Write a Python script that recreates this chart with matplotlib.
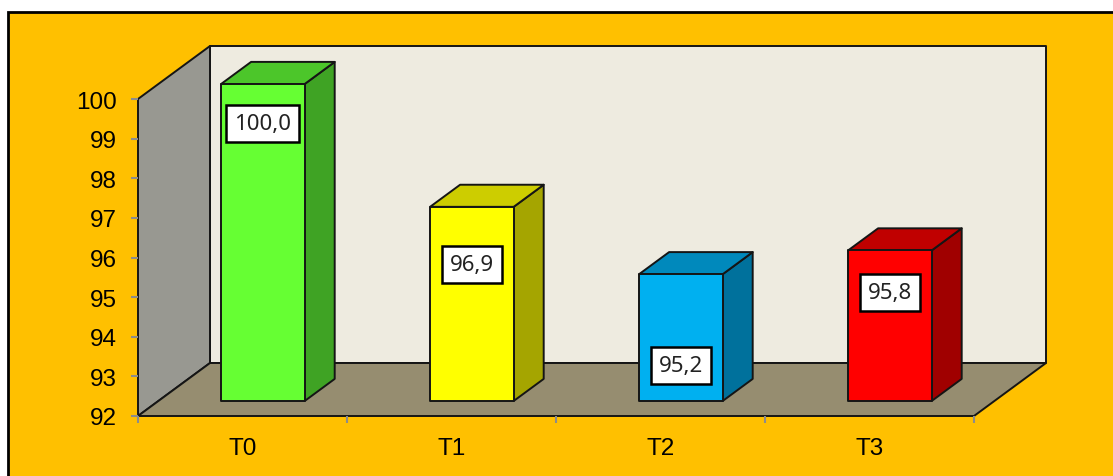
import matplotlib

matplotlib.use("Agg")

import matplotlib.pyplot as plt
from matplotlib.patches import Polygon, Rectangle

plt.rcParams["font.family"] = ["Liberation Sans", "DejaVu Sans"]

# chart data
categories = ["T0", "T1", "T2", "T3"]
values = [100.0, 96.9, 95.2, 95.8]
y_ticks = [92, 93, 94, 95, 96, 97, 98, 99, 100]

# bar colours: front, side, top
front_colors = ["#66FF33", "#FFFF00", "#00B0F0", "#FF0000"]
side_colors = ["#3FA324", "#A5A500", "#00719C", "#A00000"]
top_colors = ["#4CC62A", "#CDCD00", "#0089BC", "#C00000"]

# layout of the fake 3d box (in data units)
Y_MIN, Y_MAX = 92, 100
DX, DY = 0.3445, 1.3375      # offset of the back wall
F0, F1 = 0.283, 0.70         # depth fraction of bar front / back faces
BAR_W = 0.40
LABEL_DROP = [1.0, 1.45, 2.3, 1.05]

W, H = 1113, 477
fig = plt.figure(figsize=(W / 100, H / 100), dpi=100)
fig.patch.set_facecolor("white")

# orange chart area
fig.patches.append(Rectangle((8 / W, -0.05), 1.2, 1 - 13 / H + 0.05, transform=fig.transFigure,
                             facecolor="#FFC000", edgecolor="black", linewidth=2, zorder=-10))

ax = fig.add_axes([138 / W, 1 - 417 / H, (974 - 138) / W, (417 - 100) / H])
ax.set_facecolor("none")
ax.set_xlim(0, len(categories))
ax.set_ylim(Y_MIN, Y_MAX)
for s in ax.spines.values():
    s.set_visible(False)

n = len(categories)
edge = "#151515"


def poly(pts, fc, z, lw=1.4, ec=edge):
    ax.add_patch(Polygon(pts, closed=True, facecolor=fc, edgecolor=ec, linewidth=lw,
                         clip_on=False, zorder=z, joinstyle="round"))


# walls and floor
poly([(DX, Y_MIN + DY), (n + DX, Y_MIN + DY), (n + DX, Y_MAX + DY), (DX, Y_MAX + DY)], "#EEEBE0", 1)
poly([(0, Y_MIN), (DX, Y_MIN + DY), (DX, Y_MAX + DY), (0, Y_MAX)], "#989891", 1)
poly([(0, Y_MIN), (n, Y_MIN), (n + DX, Y_MIN + DY), (DX, Y_MIN + DY)], "#968D70", 1)

# bars
for i, v in enumerate(values):
    x0 = i + 0.5 - BAR_W / 2 + F0 * DX
    x1 = x0 + BAR_W
    b = Y_MIN + F0 * DY
    t = v + F0 * DY
    ddx = (F1 - F0) * DX
    ddy = (F1 - F0) * DY
    poly([(x1, b), (x1 + ddx, b + ddy), (x1 + ddx, t + ddy), (x1, t)], side_colors[i], 3)
    poly([(x0, t), (x1, t), (x1 + ddx, t + ddy), (x0 + ddx, t + ddy)], top_colors[i], 3)
    poly([(x0, b), (x1, b), (x1, t), (x0, t)], front_colors[i], 3)
    ax.text((x0 + x1) / 2, t - LABEL_DROP[i], f"{v:.1f}".replace(".", ","),
            ha="center", va="center", fontsize=16, family=["Noto Sans", "DejaVu Sans"],
            color="#222222", zorder=5, clip_on=False,
            bbox=dict(boxstyle="square,pad=0.36", facecolor="white", edgecolor="black", linewidth=1.8))

# axes ticks
ax.set_yticks(y_ticks)
ax.set_yticklabels([str(t) for t in y_ticks])
ax.tick_params(axis="y", direction="out", length=5, width=1.5, color="#8C8C8C",
               labelsize=17.5, pad=10)
ax.set_xticks(range(n + 1))
ax.set_xticklabels([""] * (n + 1))
ax.set_xticks([i + 0.5 for i in range(n)], minor=True)
ax.set_xticklabels(categories, minor=True)
ax.tick_params(axis="x", which="major", direction="out", length=5, width=1.5, color="#8C8C8C")
ax.tick_params(axis="x", which="minor", length=0, labelsize=17.5, pad=15)

fig.savefig("out.png", dpi=100)
